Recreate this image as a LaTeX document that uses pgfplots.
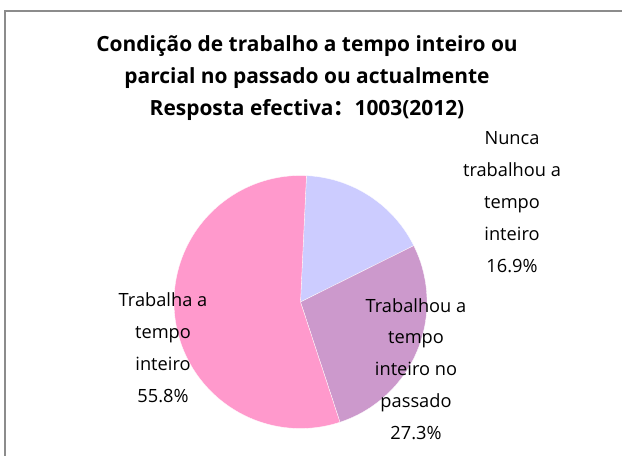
\documentclass[border=0pt]{standalone}
\usepackage{pgfplots}
\usepackage{pgfplotstable}
\pgfplotsset{compat=1.18}
\usepackage{fontspec}
\setmainfont{Open Sans}
\newfontfamily\cjk{Noto Sans CJK SC}
\definecolor{lav}{HTML}{CCCCFF}
\definecolor{mauve}{HTML}{CC99CC}
\definecolor{pinkc}{HTML}{FF99CC}
\definecolor{frame}{HTML}{8C8C8C}
\pgfplotstableread{
label value
Nunca 16.9
Trabalhou 27.3
Trabalha 55.8
}\piedata
\begin{document}
\begin{tikzpicture}
\pgfplotstablegetelem{0}{value}\of\piedata \let\va\pgfplotsretval
\pgfplotstablegetelem{1}{value}\of\piedata \let\vb\pgfplotsretval
\pgfplotstablegetelem{2}{value}\of\piedata \let\vc\pgfplotsretval
\pgfmathsetmacro\aA{87.3}
\pgfmathsetmacro\aB{\aA-3.6*\va}
\pgfmathsetmacro\aC{\aB-3.6*\vb}
\pgfmathsetmacro\aD{\aC-3.6*\vc}
\begin{axis}[
  width=622bp, height=456bp, scale only axis,
  xmin=0, xmax=622, ymin=0, ymax=456,
  hide axis, clip=false,
]
\addplot[fill=lav, draw=white, line width=0.3pt, domain=\aB:\aA, samples=80, variable=\t]
  ({300.5+126.5*cos(\t)},{154+126.5*sin(\t)}) -- (axis cs:300.5,154) -- cycle;
\addplot[fill=mauve, draw=white, line width=0.3pt, domain=\aC:\aB, samples=80, variable=\t]
  ({300.5+126.5*cos(\t)},{154+126.5*sin(\t)}) -- (axis cs:300.5,154) -- cycle;
\addplot[fill=pinkc, draw=white, line width=0.3pt, domain=\aD:\aC, samples=120, variable=\t]
  ({300.5+126.5*cos(\t)},{154+126.5*sin(\t)}) -- (axis cs:300.5,154) -- cycle;
\draw[frame, line width=1.6pt] (axis cs:5,0) -- (axis cs:5,445) -- (axis cs:622,445);
\node[align=center, font=\fontsize{21}{32.5}\selectfont\bfseries] at (axis cs:307,378)
  {Condição de trabalho a tempo inteiro ou\\parcial no passado ou actualmente\\Resposta efectiva{\cjk\bfseries ：}1003(2012)};
\node[align=center, font=\fontsize{18.3}{32}\selectfont] at (axis cs:512,254)
  {Nunca\\trabalhou a\\tempo\\inteiro\\16.9\%};
\node[align=center, font=\fontsize{18.3}{32}\selectfont] at (axis cs:416,87)
  {Trabalhou a\\tempo\\inteiro no\\passado\\27.3\%};
\node[align=center, font=\fontsize{18.3}{32}\selectfont] at (axis cs:163,108.5)
  {Trabalha a\\tempo\\inteiro\\55.8\%};
\end{axis}
\pgfresetboundingbox
\path[use as bounding box] (0,0) rectangle (622bp,456bp);
\end{tikzpicture}
\end{document}
